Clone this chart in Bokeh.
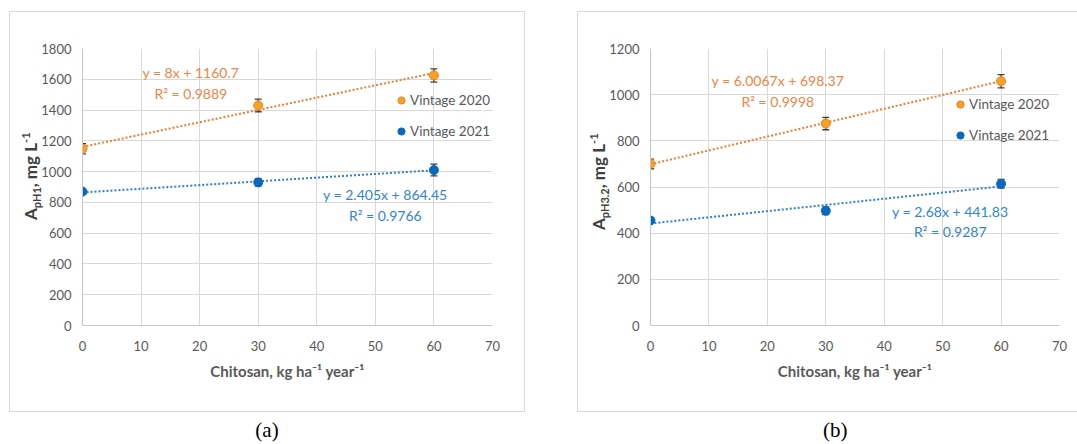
from bokeh.plotting import figure
from bokeh.models import (Range1d, SingleIntervalTicker, ColumnDataSource, Whisker, TeeHead,
                          Label, Legend, LegendItem, Div)
from bokeh.layouts import row, column
from bokeh.embed import file_html
from bokeh.resources import INLINE

# ---------------- data ----------------
chitosan = [0, 30, 60]
x_max = 70
x_step = 10
series_names = ["Vintage 2020", "Vintage 2021"]
x_title = "Chitosan, kg ha⁻¹ year⁻¹"
captions = ["(a)", "(b)"]

# (a) A_pH1
a_ymax, a_ystep = 1800, 200
a_vintage2020 = [1148, 1430, 1625]
a_vintage2020_err = [33, 41, 43]
a_vintage2021 = [870, 930, 1010]
a_vintage2021_err = [10, 24, 38]
a_fit2020 = [8.0, 1160.7]        # slope, intercept
a_fit2021 = [2.405, 864.45]
a_eq2020 = ["y = 8x + 1160.7", "R² = 0.9889"]
a_eq2021 = ["y = 2.405x + 864.45", "R² = 0.9766"]
a_ylabel = ["A", "pH1", ", mg L", "-1"]

# (b) A_pH3.2
b_ymax, b_ystep = 1200, 200
b_vintage2020 = [700, 875, 1058]
b_vintage2020_err = [21, 27, 29]
b_vintage2021 = [455, 497, 614]
b_vintage2021_err = [8, 17, 19]
b_fit2020 = [6.0067, 698.37]
b_fit2021 = [2.68, 441.83]
b_eq2020 = ["y = 6.0067x + 698.37", "R² = 0.9998"]
b_eq2021 = ["y = 2.68x + 441.83", "R² = 0.9287"]
b_ylabel = ["A", "pH3.2", ", mg L", "-1"]

# ---------------- style ----------------
FONT = "Lato"
GRID = "#d9d9d9"
AXIS = "#c6c6c6"
TICK = "#595959"
YLAB = "#404040"
ERR = "#404040"
BOX = "#d9d9d9"
ORANGE_LINE = "#ED7D31"
ORANGE_FILL = "#F9A21E"
ORANGE_TXT = "#EE8446"
BLUE_LINE = "#2E80D0"
BLUE_FILL = "#0868C0"
BLUE_TXT = "#2E86D6"


def make_panel(w, h, border_right, ymax, ystep, v20, e20, v21, e21, f20, f21,
               eq20, eq21, eq20_pos, eq21_pos, legend_xy):
    p = figure(width=w, height=h, x_range=Range1d(0, x_max), y_range=Range1d(0, ymax),
               output_backend="svg", toolbar_location=None,
               min_border_left=44, min_border_right=border_right,
               min_border_top=36, min_border_bottom=86)
    p.title.visible = False
    p.background_fill_color = "white"
    p.border_fill_color = "white"
    p.border_fill_alpha = 0
    p.outline_line_color = None
    p.xaxis.ticker = SingleIntervalTicker(interval=x_step)
    p.yaxis.ticker = SingleIntervalTicker(interval=ystep)
    p.xgrid.grid_line_color = GRID
    p.ygrid.grid_line_color = GRID
    for ax in p.axis:
        ax.axis_line_color = AXIS
        ax.major_tick_line_color = None
        ax.minor_tick_line_color = None
        ax.major_tick_out = 0
        ax.major_tick_in = 0
        ax.minor_tick_out = 0
        ax.minor_tick_in = 0
        ax.major_label_text_font = FONT
        ax.major_label_text_font_size = "13px"
        ax.major_label_text_color = TICK
    p.xaxis.major_label_standoff = 15
    p.yaxis.major_label_standoff = 11
    p.yaxis.axis_label = None
    p.xaxis.axis_label = x_title
    p.xaxis.axis_label_text_font = FONT
    p.xaxis.axis_label_text_font_size = "15px"
    p.xaxis.axis_label_text_font_style = "bold"
    p.xaxis.axis_label_text_color = TICK
    p.xaxis.axis_label_standoff = 8

    # trend lines (from the fitted equations)
    for fit, color in ((f20, ORANGE_LINE), (f21, BLUE_LINE)):
        xs = [chitosan[0], chitosan[-1]]
        ys = [fit[1] + fit[0] * x for x in xs]
        p.line(xs, ys, line_color=color, line_width=2, line_dash="2 2")

    # error bars
    for vals, errs in ((v20, e20), (v21, e21)):
        src = ColumnDataSource(dict(x=chitosan,
                                    lo=[v - e for v, e in zip(vals, errs)],
                                    hi=[v + e for v, e in zip(vals, errs)]))
        p.add_layout(Whisker(source=src, base="x", lower="lo", upper="hi",
                             line_color=ERR, line_width=1.3,
                             lower_head=TeeHead(size=7, line_color=ERR, line_width=1.3),
                             upper_head=TeeHead(size=7, line_color=ERR, line_width=1.3)))

    r20 = p.scatter(chitosan, v20, size=9, fill_color=ORANGE_FILL, line_color=ORANGE_LINE, line_width=1)
    r21 = p.scatter(chitosan, v21, size=9, fill_color=BLUE_FILL, line_color=BLUE_FILL, line_width=1)

    leg = Legend(items=[LegendItem(label=series_names[0], renderers=[r20]),
                        LegendItem(label=series_names[1], renderers=[r21])],
                 location=legend_xy, orientation="vertical",
                 border_line_color=None, background_fill_alpha=0,
                 padding=0, margin=0, spacing=13,
                 glyph_width=18, glyph_height=18, label_height=18, label_standoff=0,
                 label_text_font=FONT, label_text_font_size="13.5px", label_text_color=TICK)
    p.add_layout(leg)

    # trend equations
    for texts, pos, color in ((eq20, eq20_pos, ORANGE_TXT), (eq21, eq21_pos, BLUE_TXT)):
        for t, yv in zip(texts, pos[1:]):
            p.add_layout(Label(x=pos[0], y=yv, text=t, text_align="center", text_baseline="middle",
                               text_font=FONT, text_font_size="14px", text_color=color))
    return p


def ylabel_div(pieces, top, h):
    main, sub, rest, sup = pieces
    html = (
        f'<span style="position:absolute; left:7px; top:{top}px; transform-origin:0 0; '
        f'transform:rotate(-90deg); white-space:nowrap; font-family:{FONT}; font-weight:bold; '
        f'font-size:17px; line-height:17px; color:{YLAB};">'
        f'{main}<span style="font-size:11px; vertical-align:-4px;">{sub}</span>{rest}'
        f'<span style="font-size:11px; vertical-align:7px;">{sup}</span></span>'
    )
    return Div(text=html, width=28, height=h, margin=0,
               styles={"position": "relative", "overflow": "visible", "z-index": "2"})


H = 399
figA = make_panel(486, H, 32, a_ymax, a_ystep,
                  a_vintage2020, a_vintage2020_err, a_vintage2021, a_vintage2021_err,
                  a_fit2020, a_fit2021, a_eq2020, a_eq2021,
                  (18.5, 1644, 1507), (51.7, 851, 715), (310, 185))
figB = make_panel(471, H, 18, b_ymax, b_ystep,
                  b_vintage2020, b_vintage2020_err, b_vintage2021, b_vintage2021_err,
                  b_fit2020, b_fit2021, b_eq2020, b_eq2021,
                  (21.8, 1061, 970), (51.3, 495, 407), (301, 181))

boxA = row(ylabel_div(a_ylabel, 208, H), figA)
boxB = row(ylabel_div(b_ylabel, 218, H), figB)
boxA.styles = {"border": f"1px solid {BOX}"}
boxB.styles = {"border": f"1px solid {BOX}", "border-right": "none"}
boxA.margin = (11, 0, 0, 9)
boxB.margin = (11, 0, 0, 52)

cap_style = {"font-family": "Liberation Serif", "font-size": "21px", "color": "#000000",
             "line-height": "36px", "overflow": "hidden"}
capA = Div(text=captions[0], width=516, height=32, margin=(0, 0, 0, 9),
           styles=dict(cap_style, **{"text-align": "center"}))
capB = Div(text=captions[1], width=500, height=32, margin=(0, 0, 0, 52),
           styles=dict(cap_style, **{"text-align": "left", "padding-left": "246px"}))

layout = row(column(boxA, capA), column(boxB, capB))

open("out.html", "w").write(file_html(layout, INLINE))
